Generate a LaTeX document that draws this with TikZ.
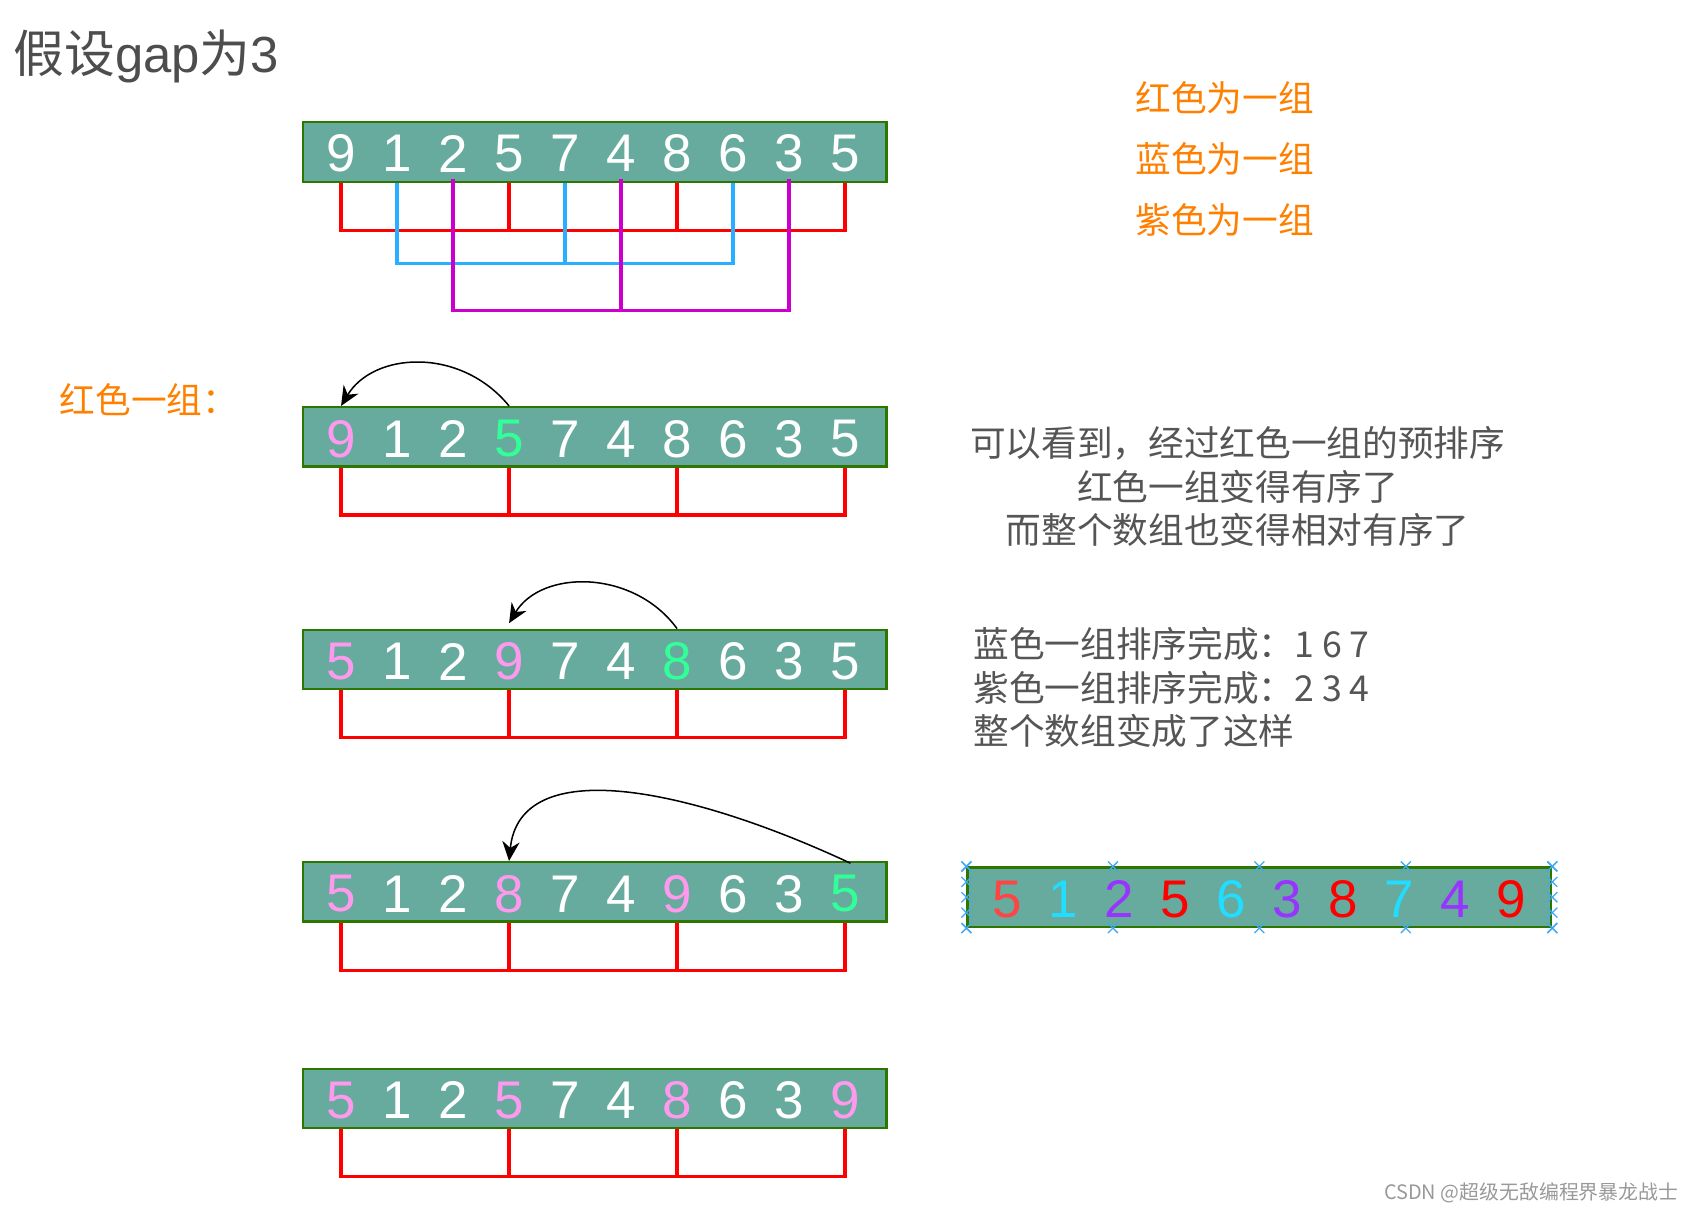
\documentclass[tikz,border=0pt]{standalone}
\usepackage{fontspec}
\setmainfont{Liberation Sans}
\newfontfamily\cjk{Noto Sans CJK SC}
\usetikzlibrary{arrows.meta,shapes.misc,calc}

\definecolor{cellfill}{HTML}{67AB9F}
\definecolor{celledge}{HTML}{2D7600}
\definecolor{grpred}{HTML}{FF0000}
\definecolor{grpblue}{HTML}{29AFFF}
\definecolor{grppurple}{HTML}{CC00CC}
\definecolor{movepink}{HTML}{FF99EE}
\definecolor{movegreen}{HTML}{33FF99}
\definecolor{noteorange}{HTML}{FF8000}
\definecolor{textgray}{HTML}{555555}
\definecolor{titlegray}{HTML}{4D4D4D}
\definecolor{handleblue}{HTML}{3FA9F5}
\definecolor{outred}{HTML}{FF4444}
\definecolor{outcyan}{HTML}{22DDFF}
\definecolor{outpurple}{HTML}{9933FF}

\newcommand*{\boxleft}{280}
\newcommand*{\outleft}{895}
\newcommand*{\cellstep}{51.8}
\newcommand*{\drop}{44}

\begin{document}
\begin{tikzpicture}[x=0.5pt,y=-0.5pt,
	arraybox/.style={draw=celledge,line width=1pt,fill=cellfill,minimum width=270pt,minimum height=27.5pt,inner sep=0pt},
	digit/.style={font=\fontsize{24.5}{24.5}\selectfont,inner sep=0pt},
	redgrp/.style={draw=grpred,line width=1.5pt},
	bluegrp/.style={draw=grpblue,line width=1.5pt},
	purplegrp/.style={draw=grppurple,line width=1.5pt},
	moveline/.style={-{Stealth[length=9pt,width=8pt]},line width=0.7pt,black},
	note/.style={font=\cjk\fontsize{16.5}{20}\selectfont,text=noteorange,inner sep=0pt},
	remark/.style={font=\cjk\fontsize{16.5}{20}\selectfont,text=textgray,inner sep=0pt},
	handle/.style={cross out,draw=handleblue,line width=0.6pt,minimum size=4pt,inner sep=0pt}]

	\useasboundingbox (0,0) rectangle (1568,1121);

	\node[anchor=west,font=\fontsize{23.5}{23.5}\selectfont,text=titlegray,inner sep=0pt] (title) at (12,52) {{\cjk 假设}gap{\cjk 为}3};

	% legend
	\node[note,anchor=west] (leg-red) at (1050,90) {红色为一组};
	\node[note,anchor=west] (leg-blue) at (1050,147) {蓝色为一组};
	\node[note,anchor=west] (leg-purple) at (1050,203) {紫色为一组};
	\node[note,anchor=west] (redlabel) at (55,370) {红色一组：};

	% array 1 with all three groups
	\node[arraybox] (a1) at (550,140.5) {};
	\foreach \d [count=\i from 0] in {9,1,2,5,7,4,8,6,3,5}
		\node[digit,text=white] (a1-\i) at ({\boxleft+35.5+\cellstep*\i},142) {\d};
	\draw[redgrp] (a1-0 |- a1.south) -- ++(0,44) -| (a1-9 |- a1.south);
	\foreach \k in {3,6} \draw[redgrp] (a1-\k |- a1.south) -- ++(0,44);
	\draw[bluegrp] (a1-1 |- a1.south) -- ++(0,75) -| (a1-7 |- a1.south);
	\draw[bluegrp] (a1-4 |- a1.south) -- ++(0,75);
	\draw[purplegrp] ($(a1-2 |- a1.south)+(0,-3)$) -- ++(0,121) -| ($(a1-8 |- a1.south)+(0,-3)$);
	\draw[purplegrp] ($(a1-5 |- a1.south)+(0,-3)$) -- ++(0,121);

	% arrays of the red group
	\node[arraybox] (a2) at (550,404) {};
	\foreach \d/\c [count=\i from 0] in {9/movepink,1/white,2/white,5/movegreen,7/white,4/white,8/white,6/white,3/white,5/white}
		\node[digit,text=\c] (a2-\i) at ({\boxleft+35.5+\cellstep*\i},406) {\d};

	\node[arraybox] (a3) at (550,610) {};
	\foreach \d/\c [count=\i from 0] in {5/movepink,1/white,2/white,9/movepink,7/white,4/white,8/movegreen,6/white,3/white,5/white}
		\node[digit,text=\c] (a3-\i) at ({\boxleft+35.5+\cellstep*\i},612) {\d};

	\node[arraybox] (a4) at (550,825) {};
	\foreach \d/\c [count=\i from 0] in {5/movepink,1/white,2/white,8/movepink,7/white,4/white,9/movepink,6/white,3/white,5/movegreen}
		\node[digit,text=\c] (a4-\i) at ({\boxleft+35.5+\cellstep*\i},827) {\d};

	\node[arraybox] (a5) at (550,1016) {};
	\foreach \d/\c [count=\i from 0] in {5/movepink,1/white,2/white,5/movepink,7/white,4/white,8/movepink,6/white,3/white,9/movepink}
		\node[digit,text=\c] (a5-\i) at ({\boxleft+35.5+\cellstep*\i},1018) {\d};

	\foreach \a in {a2,a3,a4,a5} {
		\draw[redgrp] (\a-0 |- \a.south) -- ++(0,\drop) -| (\a-9 |- \a.south);
		\foreach \k in {3,6} \draw[redgrp] (\a-\k |- \a.south) -- ++(0,\drop);
	}

	% moves
	\draw[moveline] (a2-3 |- a2.north) .. controls +(-45,-55) and +(30,-50) .. (a2-0 |- a2.north);
	\draw[moveline] (a3-6 |- a3.north) .. controls +(-40,-55) and +(30,-50) .. ($(a3-3 |- a3.north)+(0,-5)$);
	\draw[moveline] ($(a4-9 |- a4.north)+(5,2)$) .. controls +(-150,-70) and +(10,-100) .. (a4-3 |- a4.north);

	% remarks
	\node[remark,align=center] (remark1) at (1145,450) {可以看到，经过红色一组的预排序\\红色一组变得有序了\\而整个数组也变得相对有序了};
	\node[remark,align=left,anchor=west] (remark2) at (900,636) {蓝色一组排序完成：1 6 7\\紫色一组排序完成：2 3 4\\整个数组变成了这样};

	% whole array after gap 3
	\node[arraybox] (b) at (1165,830) {};
	\foreach \d/\c [count=\i from 0] in {5/outred,1/outcyan,2/outpurple,5/grpred,6/outcyan,3/outpurple,8/grpred,7/outcyan,4/outpurple,9/grpred}
		\node[digit,text=\c] (b-\i) at ({\outleft+36.5+\cellstep*\i},832) {\d};
	\foreach \t [count=\n] in {0,0.25,0.5,0.75,1} {
		\node[handle] (hn-\n) at ($(b.north west)!\t!(b.north east)$) {};
		\node[handle] (hs-\n) at ($(b.south west)!\t!(b.south east)$) {};
		\node[handle] (hw-\n) at ($(b.north west)!\t!(b.south west)$) {};
		\node[handle] (he-\n) at ($(b.north east)!\t!(b.south east)$) {};
	}

	\node[anchor=east,font=\cjk\fontsize{9.2}{9.2}\selectfont,text=black!40,inner sep=0pt] (mark) at (1553,1103) {CSDN @超级无敌编程界暴龙战士};

\end{tikzpicture}
\end{document}
